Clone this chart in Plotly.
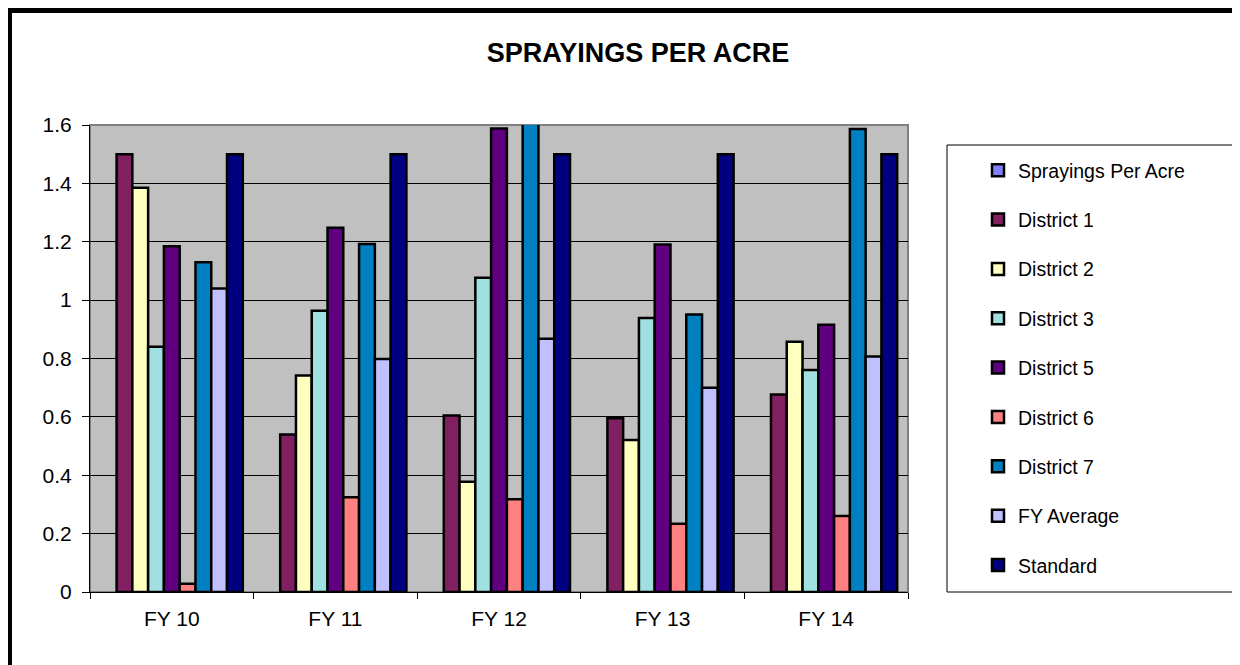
import plotly.graph_objects as go

categories = ["FY 10", "FY 11", "FY 12", "FY 13", "FY 14"]
series_names = ["Sprayings Per Acre", "District 1", "District 2", "District 3",
                "District 5", "District 6", "District 7", "FY Average", "Standard"]
sprayings_per_acre = [None, None, None, None, None]
district_1 = [1.50, 0.54, 0.605, 0.595, 0.677]
district_2 = [1.385, 0.742, 0.378, 0.521, 0.857]
district_3 = [0.84, 0.964, 1.077, 0.939, 0.761]
district_5 = [1.185, 1.248, 1.588, 1.191, 0.916]
district_6 = [0.028, 0.325, 0.318, 0.234, 0.26]
district_7 = [1.13, 1.192, 1.62, 0.951, 1.586]
fy_average = [1.04, 0.798, 0.868, 0.70, 0.807]
standard = [1.50, 1.50, 1.50, 1.50, 1.50]
series_values = [sprayings_per_acre, district_1, district_2, district_3,
                 district_5, district_6, district_7, fy_average, standard]
colors = ["#8080FF", "#802060", "#FFFFC0", "#A0E0E0", "#600080",
          "#FF8080", "#0080C0", "#C0C0FF", "#000080"]
y_ticks = [0, 0.2, 0.4, 0.6, 0.8, 1.0, 1.2, 1.4, 1.6]
y_tick_labels = ["0", "0.2", "0.4", "0.6", "0.8", "1", "1.2", "1.4", "1.6"]

OFF = 8  # browser body margin
W, H = 1240 - OFF, 665 - OFF
# plot area in reference-page pixels
L, R, T, B = 90, 908, 125, 592


def px_x(p):
    return (p - L) / (R - L)


def px_y(p):
    return (B - p) / (B - T)


fig = go.Figure()
for i, (name, vals, col) in enumerate(zip(series_names, series_values, colors)):
    fig.add_trace(go.Bar(
        x=categories, y=vals, name=name,
        marker=dict(color=col, line=dict(color="#000000", width=2.5)),
        legendgroup=f"g{i}",
    ))

font_family = "Liberation Sans, Arial, sans-serif"

shapes = [
    # plot area gray border
    dict(type="rect", xref="paper", yref="paper", x0=0, x1=1, y0=0, y1=1,
         line=dict(color="#808080", width=2), layer="below"),
    # legend box
    dict(type="rect", xref="paper", yref="paper",
         x0=px_x(947), x1=px_x(1250), y0=px_y(145), y1=px_y(592),
         line=dict(color="#000000", width=1), fillcolor="rgba(0,0,0,0)"),
    # outer frame: top band
    dict(type="rect", xref="paper", yref="paper",
         x0=px_x(0), x1=px_x(1260), y0=px_y(6), y1=px_y(13),
         line=dict(width=0), fillcolor="#000000"),
    # outer frame: left band
    dict(type="rect", xref="paper", yref="paper",
         x0=px_x(0), x1=px_x(12), y0=px_y(6), y1=px_y(690),
         line=dict(width=0), fillcolor="#000000"),
]

fig.update_layout(
    width=W, height=H,
    margin=dict(l=L - OFF, r=1240 - R, t=T - OFF, b=665 - B, pad=0),
    paper_bgcolor="#FFFFFF",
    plot_bgcolor="#C0C0C0",
    barmode="group",
    bargap=0.132,
    bargroupgap=0,
    font=dict(family=font_family, color="#000000", size=20),
    title=dict(text="<b>SPRAYINGS PER ACRE</b>", x=px_x(638), xref="paper",
               xanchor="center", y=1 - (53 - OFF) / H, yanchor="middle",
               font=dict(size=27, family=font_family, color="#000000")),
    showlegend=True,
    legend=dict(
        x=px_x(978), xanchor="left",
        y=px_y(151), yanchor="top",
        bgcolor="rgba(0,0,0,0)", borderwidth=0,
        font=dict(size=19.5, family=font_family, color="#000000"),
        traceorder="grouped", tracegroupgap=21,
        itemwidth=30,
    ),
    shapes=shapes,
    xaxis=dict(
        showline=True, linecolor="#000000", linewidth=1,
        ticks="outside", ticklen=6, tickcolor="#000000", tickwidth=1,
        tickson="boundaries", showgrid=False,
        tickfont=dict(size=21), ticklabelstandoff=8,
    ),
    yaxis=dict(
        range=[0, 1.6], tickvals=y_ticks, ticktext=y_tick_labels,
        showline=True, linecolor="#000000", linewidth=1,
        ticks="outside", ticklen=7, tickcolor="#000000", tickwidth=1,
        showgrid=True, gridcolor="#000000", gridwidth=1,
        zeroline=False, tickfont=dict(size=21),
        ticklabelstandoff=6,
    ),
)

fig.write_html("out.html")
